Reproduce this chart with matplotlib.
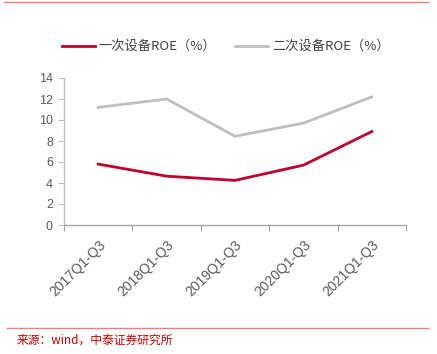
import matplotlib
matplotlib.use("Agg")
import matplotlib.pyplot as plt
from matplotlib.lines import Line2D

plt.rcParams['font.family'] = ['Liberation Sans', 'Noto Sans CJK SC', 'DejaVu Sans']

categories = ["2017Q1-Q3", "2018Q1-Q3", "2019Q1-Q3", "2020Q1-Q3", "2021Q1-Q3"]
roe_primary = [5.8, 4.65, 4.25, 5.7, 8.9]
roe_secondary = [11.2, 12.0, 8.45, 9.7, 12.2]
series_names = ["一次设备ROE（%）", "二次设备ROE（%）"]
source_text = "来源：wind，中泰证券研究所"

W, H = 437, 354
fig = plt.figure(figsize=(W/100, H/100), dpi=100)
ax = fig.add_axes([64/W, 1-225/H, (406-64)/W, (225-78)/H])

red = "#C0002F"
gray = "#BFBFBF"
x = list(range(len(categories)))
ax.plot(x, roe_primary, color=red, lw=2)
ax.plot(x, roe_secondary, color=gray, lw=2)

ax.set_xlim(-0.5, len(categories)-0.5)
ax.set_ylim(0, 14)
ax.set_yticks(range(0, 15, 2))
ax.set_xticks([i-0.5 for i in range(len(categories)+1)], minor=False)
ax.set_xticklabels([])
ax.set_xticks(x, minor=True)
ax.set_xticklabels(categories, minor=True, rotation=45, ha='right', va='top',
                   rotation_mode='anchor', fontsize=10, color="#595959")
ax.tick_params(axis='x', which='minor', length=0, pad=9)
ax.tick_params(axis='x', which='major', length=4, color="#A6A6A6", direction='out')
ax.tick_params(axis='y', length=4, color="#BFBFBF", labelsize=9, labelcolor="#595959", pad=4)

for s in ['top', 'right']:
    ax.spines[s].set_visible(False)
ax.spines['left'].set_color("#BFBFBF")
ax.spines['bottom'].set_color("#A6A6A6")
ax.spines['left'].set_linewidth(1)
ax.spines['bottom'].set_linewidth(1)

# legend
fig.add_artist(Line2D([62/W, 95/W], [1-46/H, 1-46/H], color=red, lw=2))
fig.text(98/W, 1-46/H, series_names[0], fontsize=9.5, color="#404040", va='center', ha='left',
         family=['Noto Sans CJK SC'])
fig.add_artist(Line2D([235/W, 268/W], [1-46/H, 1-46/H], color=gray, lw=2))
fig.text(272/W, 1-46/H, series_names[1], fontsize=9.5, color="#404040", va='center', ha='left',
         family=['Noto Sans CJK SC'])

# frame lines
fig.add_artist(Line2D([4/W, 428/W], [1-1.5/H, 1-1.5/H], color="#E8807F", lw=1))
fig.add_artist(Line2D([7/W, 428/W], [1-328/H, 1-328/H], color="#E8807F", lw=1))
fig.text(17/W, 1-340/H, source_text, fontsize=8.5, color="#C00000", va='center', ha='left',
         family=['Noto Sans CJK SC'])

fig.savefig("out.png", dpi=100)
